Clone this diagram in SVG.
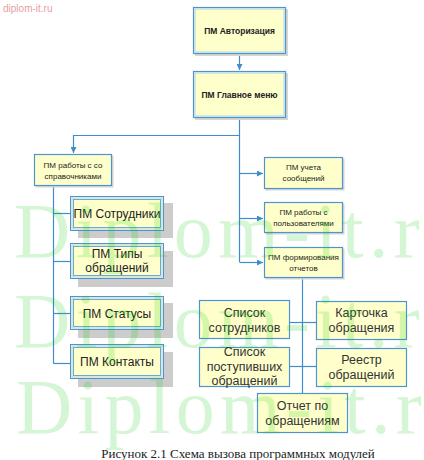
<svg xmlns="http://www.w3.org/2000/svg" width="424" height="460" viewBox="0 0 424 460">
<defs>
<style>
.box{fill:#ffffcc;stroke:#4d94d0;stroke-width:1.2}
.inner{fill:none;stroke:#a9d2f0;stroke-width:1}
.mod{fill:#ffffcc;stroke:#4d94d0;stroke-width:1}
.shadow{fill:#cccccc}
.soft{fill:#d6d6d6}
.c{fill:none;stroke:#3f8ccf;stroke-width:1.2}
.t{font-family:"Liberation Sans",Arial,sans-serif;text-anchor:middle;fill:#222}
.tb{font-weight:bold;font-size:8.5px}
.ts{font-size:8px}
.tm{font-size:12px}
.tl{font-size:12.5px;fill:#333}
.wm{font-family:"Liberation Serif","Times New Roman",serif;font-size:78px;fill:#00cc00;fill-opacity:0.17}
</style>
<marker id="arr" viewBox="0 0 10 10" refX="10" refY="5" markerWidth="6" markerHeight="6" orient="auto" markerUnits="userSpaceOnUse">
<path d="M0,0 L10,5 L0,10 z" fill="#3f8ccf"/>
</marker>
</defs>
<rect width="424" height="460" fill="#ffffff"/>
<text x="3" y="12" font-family="Liberation Sans,Arial,sans-serif" font-size="10" fill="#e8a0a0">diplom-it.ru</text>

<g id="connectors">
<path class="c" d="M239.5,54 V70" marker-end="url(#arr)"/>
<path class="c" d="M239.5,118 V262"/>
<path class="c" d="M239.5,135.5 H73.5 V153" marker-end="url(#arr)"/>
<path class="c" d="M239.5,173.5 H263" marker-end="url(#arr)"/>
<path class="c" d="M239.5,218.5 H263" marker-end="url(#arr)"/>
<path class="c" d="M239.5,262.5 H263" marker-end="url(#arr)"/>
<path class="c" d="M53.5,186 V363.5"/>
<path class="c" d="M53.5,213.5 H70"/>
<path class="c" d="M53.5,261.5 H70"/>
<path class="c" d="M53.5,313.5 H70"/>
<path class="c" d="M53.5,363.5 H70"/>
<path class="c" d="M302.5,278 V393"/>
<path class="c" d="M290,322.5 H316"/>
<path class="c" d="M290,366.5 H316"/>
</g>

<g id="n-auth">
<rect class="soft" x="195" y="9" width="93" height="47"/>
<rect class="box" x="193.5" y="7.5" width="92" height="46"/>
<rect class="inner" x="195" y="9" width="89" height="43"/>
<text class="t tb" x="239.5" y="34">ПМ Авторизация</text>
</g>
<g id="n-main">
<rect class="soft" x="195" y="73" width="93" height="47"/>
<rect class="box" x="193.5" y="71.5" width="92" height="46"/>
<rect class="inner" x="195" y="73" width="89" height="43"/>
<text class="t tb" x="239.5" y="97.5">ПМ Главное меню</text>
</g>
<g id="n-ref">
<rect class="soft" x="35.5" y="155.5" width="78" height="32"/>
<rect class="box" x="34.5" y="154.5" width="77" height="31"/>
<text class="t ts" x="73" y="168">ПМ работы с со</text>
<text class="t ts" x="73" y="178.5">справочниками</text>
</g>
<g id="n-msg">
<rect class="soft" x="265.5" y="158.5" width="79" height="32"/>
<rect class="box" x="264.5" y="157.5" width="78" height="31"/>
<text class="t ts" x="303.5" y="170">ПМ учета</text>
<text class="t ts" x="303.5" y="181">сообщений</text>
</g>
<g id="n-users">
<rect class="soft" x="265.5" y="203.5" width="79" height="31"/>
<rect class="box" x="264.5" y="202.5" width="78" height="30"/>
<text class="t ts" x="303.5" y="215">ПМ работы с</text>
<text class="t ts" x="303.5" y="226">пользователями</text>
</g>
<g id="n-reports">
<rect class="soft" x="265.5" y="248.5" width="79" height="31"/>
<rect class="box" x="264.5" y="247.5" width="78" height="30"/>
<text class="t ts" x="303.5" y="260">ПМ формирования</text>
<text class="t ts" x="303.5" y="271">отчетов</text>
</g>

<g id="n-staff">
<rect class="shadow" x="78" y="203" width="95" height="35"/>
<rect class="mod" x="70.5" y="196.5" width="93" height="34"/>
<rect class="inner" x="72" y="198" width="90" height="31" stroke-width="1.5"/>
<rect x="73.5" y="199.5" width="87" height="28" fill="none" stroke="#4d94d0" stroke-width="0.8"/>
<text class="t tm" x="117" y="217.5">ПМ Сотрудники</text>
</g>
<g id="n-types">
<rect class="shadow" x="78" y="251" width="95" height="36"/>
<rect class="mod" x="70.5" y="243.5" width="93" height="35"/>
<rect class="inner" x="72" y="245" width="90" height="32" stroke-width="1.5"/>
<rect x="73.5" y="246.5" width="87" height="29" fill="none" stroke="#4d94d0" stroke-width="0.8"/>
<text class="t tm" x="117" y="257.5">ПМ Типы</text>
<text class="t tm" x="117" y="271.5">обращений</text>
</g>
<g id="n-status">
<rect class="shadow" x="78" y="303" width="95" height="35"/>
<rect class="mod" x="70.5" y="296.5" width="93" height="33"/>
<rect class="inner" x="72" y="298" width="90" height="30" stroke-width="1.5"/>
<rect x="73.5" y="299.5" width="87" height="27" fill="none" stroke="#4d94d0" stroke-width="0.8"/>
<text class="t tm" x="117" y="317.5">ПМ Статусы</text>
</g>
<g id="n-contacts">
<rect class="shadow" x="78" y="352" width="95" height="35"/>
<rect class="mod" x="70.5" y="344.5" width="93" height="34"/>
<rect class="inner" x="72" y="346" width="90" height="31" stroke-width="1.5"/>
<rect x="73.5" y="347.5" width="87" height="28" fill="none" stroke="#4d94d0" stroke-width="0.8"/>
<text class="t tm" x="117" y="366">ПМ Контакты</text>
</g>

<g id="n-list-staff">
<rect class="box" x="199.5" y="300.5" width="90" height="38" stroke="#5aa5e0"/>
<text class="t tl" x="244.5" y="316.5">Список</text>
<text class="t tl" x="244.5" y="331.5">сотрудников</text>
</g>
<g id="n-card">
<rect class="box" x="316.5" y="301.5" width="90" height="38" stroke="#5aa5e0"/>
<text class="t tl" x="361.5" y="316.5">Карточка</text>
<text class="t tl" x="361.5" y="331.5">обращения</text>
</g>
<g id="n-list-in">
<rect class="box" x="199.5" y="347.5" width="90" height="39" stroke="#5aa5e0"/>
<text class="t tl" x="244.5" y="355.5">Список</text>
<text class="t tl" x="244.5" y="370.5">поступивших</text>
<text class="t tl" x="244.5" y="384.5">обращений</text>
</g>
<g id="n-registry">
<rect class="box" x="316.5" y="348.5" width="90" height="38" stroke="#5aa5e0"/>
<text class="t tl" x="361.5" y="363.5">Реестр</text>
<text class="t tl" x="361.5" y="378.5">обращений</text>
</g>
<g id="n-report">
<rect class="box" x="257.5" y="393.5" width="90" height="39" stroke="#5aa5e0"/>
<text class="t tl" x="302.5" y="409.5">Отчет по</text>
<text class="t tl" x="302.5" y="424.5">обращениям</text>
</g>

<text x="238" y="458" font-family="Liberation Serif,Times New Roman,serif" font-size="13" text-anchor="middle" fill="#222">Рисунок 2.1 Схема вызова программных модулей</text>

<g id="watermark">
<text class="wm" x="14" y="257" textLength="450" lengthAdjust="spacing">Diplom-it.ru</text>
<text class="wm" x="14" y="347" textLength="450" lengthAdjust="spacing">Diplom-it.ru</text>
<text class="wm" x="16" y="433" textLength="450" lengthAdjust="spacing">Diplom-it.ru</text>
</g>
</svg>
